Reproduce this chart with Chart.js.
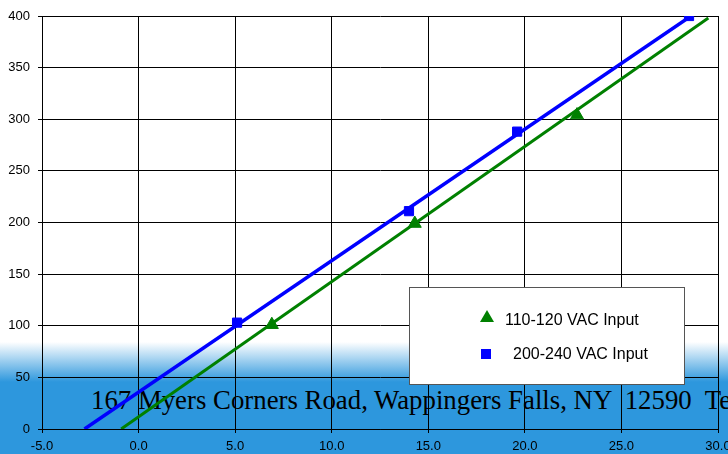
<!DOCTYPE html>
<html>
<head>
<meta charset="utf-8">
<script src="https://cdn.jsdelivr.net/npm/chart.js@4.4.0/dist/chart.umd.min.js"></script>
<style>
  html, body { margin: 0; padding: 0; }
  body {
    width: 728px; height: 454px; overflow: hidden; position: relative;
    background: linear-gradient(to bottom, #ffffff 0px, #ffffff 342px, #2d97dd 382px, #2d97dd 454px);
  }
  #banner {
    position: absolute; left: 91px; top: 385px;
    font-family: "Liberation Serif", "DejaVu Serif", serif; font-size: 26.8px;
    color: #000; white-space: pre;
  }
  #wrap { position: absolute; left: 0; top: 0; width: 728px; height: 454px; }
</style>
</head>
<body>
<div id="banner">167 Myers Corners Road, Wappingers Falls, NY  12590  Tel</div>
<div id="wrap"><canvas id="chart" width="728" height="454"></canvas></div>
<script>
  const xTicks = [-5, 0, 5, 10, 15, 20, 25, 30];
  const yTicks = [0, 50, 100, 150, 200, 250, 300, 350, 400];

  const lowLabel = "110-120 VAC Input";
  const lowX = [6.9, 14.3, 22.7];
  const lowY = [101, 199, 304];
  const lowTrendX = [-0.9, 29.5];
  const lowTrendY = [0, 398];

  const highLabel = "200-240 VAC Input";
  const highX = [5.1, 14.0, 19.6, 28.5];
  const highY = [103, 211, 288, 400];
  const highTrendX = [-2.8, 28.6];
  const highTrendY = [0, 400];

  const toPoints = (xs, ys) => xs.map((x, i) => ({ x: x, y: ys[i] }));

  const legendBox = {
    id: "legendBox",
    afterDraw(chart) {
      const ctx = chart.ctx;
      ctx.save();
      ctx.fillStyle = "#ffffff";
      ctx.fillRect(409.5, 287.5, 275, 97);
      ctx.strokeStyle = "#555555";
      ctx.lineWidth = 1;
      ctx.strokeRect(409.5, 287.5, 275, 97);

      // triangle
      ctx.fillStyle = "#008000";
      ctx.beginPath();
      ctx.moveTo(487, 310);
      ctx.lineTo(494, 322);
      ctx.lineTo(480, 322);
      ctx.closePath();
      ctx.fill();
      // square
      ctx.fillStyle = "#0000ff";
      ctx.fillRect(481, 349, 10, 10);

      ctx.fillStyle = "#000000";
      ctx.font = "16px 'Liberation Sans', Arial, sans-serif";
      ctx.textBaseline = "middle";
      ctx.fillText(lowLabel, 505, 321);
      ctx.fillText(highLabel, 513, 355);
      ctx.restore();
    }
  };

  const tickFont = { family: "'Liberation Sans', Arial, sans-serif", size: 13 };

  new Chart(document.getElementById("chart"), {
    type: "scatter",
    data: {
      datasets: [
        {
          label: lowLabel,
          data: toPoints(lowX, lowY),
          pointStyle: "triangle",
          pointRadius: 7.5,
          backgroundColor: "#008000",
          borderColor: "#008000",
          showLine: false
        },
        {
          label: highLabel,
          data: toPoints(highX, highY),
          pointStyle: "rect",
          pointRadius: 6.5,
          backgroundColor: "#0000ff",
          borderColor: "#0000ff",
          showLine: false
        },
        {
          label: "low trend",
          data: toPoints(lowTrendX, lowTrendY),
          showLine: true,
          borderColor: "#008000",
          borderWidth: 3,
          pointRadius: 0
        },
        {
          label: "high trend",
          data: toPoints(highTrendX, highTrendY),
          showLine: true,
          borderColor: "#0000ff",
          borderWidth: 3.5,
          pointRadius: 0
        }
      ]
    },
    options: {
      responsive: false,
      animation: false,
      devicePixelRatio: 1,
      layout: { padding: { top: 16, right: 10, left: 0, bottom: 0 } },
      plugins: {
        legend: { display: false },
        tooltip: { enabled: false }
      },
      scales: {
        x: {
          type: "linear",
          min: -5,
          max: 30,
          afterBuildTicks: (scale) => { scale.ticks = xTicks.map((v) => ({ value: v })); },
          afterFit: (scale) => {
            scale.height = 25;
            scale.paddingLeft = 0;
            scale.paddingRight = 0;
          },
          border: { color: "#000000", width: 1 },
          grid: { color: "#000000", lineWidth: 1, tickLength: 4 },
          ticks: {
            color: "#000000",
            font: tickFont,
            padding: 6,
            maxRotation: 0,
            callback: (v) => Number(v).toFixed(1)
          }
        },
        y: {
          type: "linear",
          min: 0,
          max: 400,
          afterBuildTicks: (scale) => { scale.ticks = yTicks.map((v) => ({ value: v })); },
          afterFit: (scale) => { scale.width = 42; },
          border: { color: "#000000", width: 1 },
          grid: { color: "#000000", lineWidth: 1, tickLength: 4 },
          ticks: {
            color: "#000000",
            font: tickFont,
            padding: 8
          }
        }
      }
    },
    plugins: [legendBox]
  });
</script>
</body>
</html>
